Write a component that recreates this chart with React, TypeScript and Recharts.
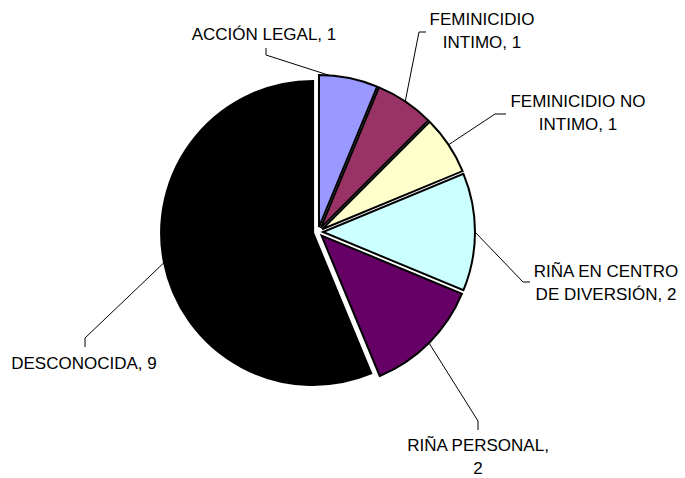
import { Pie, PieChart, Sector } from "recharts";

const categories = [
  "ACCIÓN LEGAL",
  "FEMINICIDIO INTIMO",
  "FEMINICIDIO NO INTIMO",
  "RIÑA EN CENTRO DE DIVERSIÓN",
  "RIÑA PERSONAL",
  "DESCONOCIDA",
];
const counts = [1, 1, 1, 2, 2, 9];
const labelLines = [
  ["ACCIÓN LEGAL, 1"],
  ["FEMINICIDIO", "INTIMO, 1"],
  ["FEMINICIDIO NO", "INTIMO, 1"],
  ["RIÑA EN CENTRO", "DE DIVERSIÓN, 2"],
  ["RIÑA PERSONAL,", "2"],
  ["DESCONOCIDA, 9"],
];

const colors = ["#9999FF", "#993366", "#FFFFCC", "#CCFFFF", "#660066", "#000000"];

// where each excel-style label sits: share of the slice where the leader attaches,
// elbow, tick end, text centre x, first baseline
const labelLayout = [
  { attach: 0.18, elbow: [266, 55], tick: [266, 48], tx: 264, ty: 40 },
  { attach: 0.5, elbow: [419, 32], tick: [426, 32], tx: 482, ty: 25 },
  { attach: 0.5, elbow: [495, 114], tick: [506, 114], tx: 578, ty: 107 },
  { attach: 0.5, elbow: [523, 282], tick: [530, 282], tx: 606, ty: 277 },
  { attach: 0.5, elbow: [478, 421], tick: [478, 430], tx: 478, ty: 451 },
  { attach: 0.5, elbow: [85, 338], tick: [85, 347], tx: 84, ty: 369 },
];

const data = categories.map((name, i) => ({ name, value: counts[i], fill: colors[i] }));

const RAD = Math.PI / 180;
const EXPLODE = 5;
const FONT = "'Liberation Sans', Arial, sans-serif";

const ExplodedSlice = (props: any) => {
  const { cx, cy, midAngle } = props;
  const dx = EXPLODE * Math.cos(-midAngle * RAD);
  const dy = EXPLODE * Math.sin(-midAngle * RAD);
  return <Sector {...props} cx={cx + dx} cy={cy + dy} />;
};

const renderLabel = (props: any) => {
  const { cx, cy, midAngle, startAngle, endAngle, outerRadius, index } = props;
  const lay = labelLayout[index];
  // centre of the pulled-out slice
  const ox = cx + EXPLODE * Math.cos(-midAngle * RAD);
  const oy = cy + EXPLODE * Math.sin(-midAngle * RAD);
  const a = startAngle + (endAngle - startAngle) * lay.attach;
  const sx = ox + outerRadius * Math.cos(-a * RAD);
  const sy = oy + outerRadius * Math.sin(-a * RAD);
  return (
    <g>
      <polyline
        points={`${sx},${sy} ${lay.elbow[0]},${lay.elbow[1]} ${lay.tick[0]},${lay.tick[1]}`}
        fill="none"
        stroke="#000"
        strokeWidth={1}
      />
      <text x={lay.tx} y={lay.ty} textAnchor="middle" fontFamily={FONT} fontSize={17} fill="#000">
        {labelLines[index].map((line, k) => (
          <tspan key={k} x={lay.tx} dy={k === 0 ? 0 : 23}>
            {line}
          </tspan>
        ))}
      </text>
    </g>
  );
};

export default function App() {
  return (
    <div style={{ position: "absolute", left: 0, top: 0, background: "#fff" }}>
      <PieChart width={685} height={478} margin={{ top: 0, right: 0, bottom: 0, left: 0 }}>
        <Pie
          data={data}
          dataKey="value"
          nameKey="name"
          cx={318}
          cy={232}
          outerRadius={152}
          startAngle={90}
          endAngle={-270}
          stroke="#000"
          strokeWidth={2}
          shape={ExplodedSlice}
          label={renderLabel}
          labelLine={false}
          isAnimationActive={false}
        />
      </PieChart>
    </div>
  );
}
